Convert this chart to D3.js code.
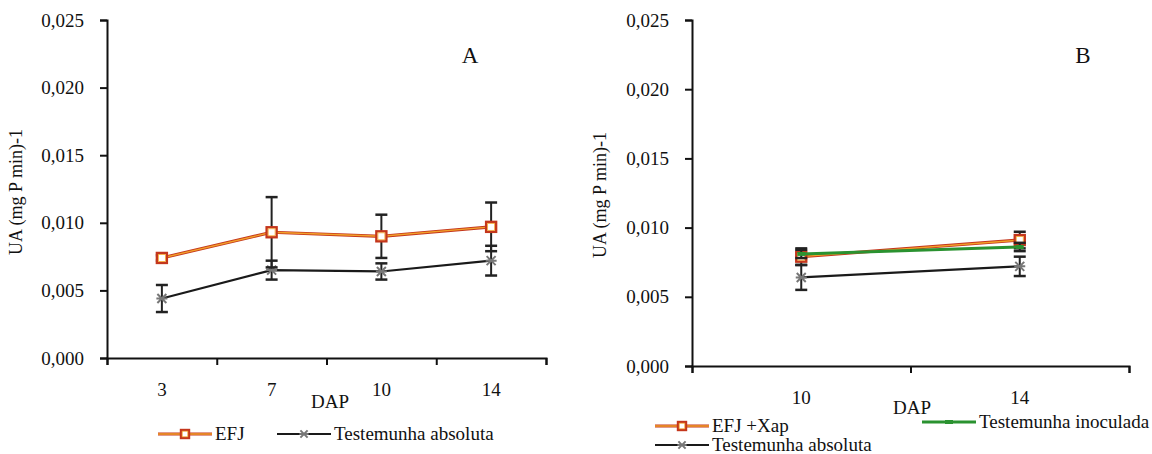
<!DOCTYPE html>
<html>
<head>
<meta charset="utf-8">
<script src="https://cdn.jsdelivr.net/npm/d3@7"></script>
<style>
  body { margin: 0; background: #fff; }
</style>
</head>
<body>
<div id="chart"></div>
<script>
// panel A
var daysA = ["3", "7", "10", "14"];
var efjA = [0.0074, 0.0093, 0.0090, 0.0097];
var efjErrA = [0.0002, 0.0026, 0.0016, 0.0018];
var testAbsA = [0.0044, 0.0065, 0.0064, 0.0072];
var testAbsErrA = [0.0010, 0.0007, 0.0006, 0.0011];

// panel B
var daysB = ["10", "14"];
var efjXapB = [0.0079, 0.0091];
var efjXapErrB = [0.0006, 0.0006];
var testInoB = [0.0081, 0.0086];
var testInoErrB = [0.0003, 0.0003];
var testAbsB = [0.0064, 0.0072];
var testAbsErrB = [0.0009, 0.0007];

var yTicks = [0, 0.005, 0.010, 0.015, 0.020, 0.025];

var FONT = "'Liberation Serif', 'Times New Roman', 'DejaVu Serif', serif";
var W = 1152, H = 454;
var svg = d3.select("#chart").append("svg")
	.attr("width", W).attr("height", H)
	.style("font-family", FONT);

var fmt = function(d) { return d3.format(".3f")(d).replace(".", ","); };

function drawSeries(g, x, y, cats, vals, errs, kind) {
	var pts = cats.map(function(c, i) { return { x: x(c) + x.bandwidth() / 2, v: vals[i], e: errs[i] }; });

	// error bars
	var eb = g.append("g");
	pts.forEach(function(p) {
		eb.append("line").attr("x1", p.x).attr("x2", p.x)
			.attr("y1", y(p.v + p.e)).attr("y2", y(p.v - p.e))
			.attr("stroke", "#222").attr("stroke-width", 2);
		[p.v + p.e, p.v - p.e].forEach(function(v) {
			eb.append("line").attr("x1", p.x - 6).attr("x2", p.x + 6)
				.attr("y1", y(v)).attr("y2", y(v))
				.attr("stroke", "#222").attr("stroke-width", 2.5);
		});
	});

	var line = d3.line().x(function(d) { return d.x; }).y(function(d) { return y(d.v); });
	if (kind == "efj") {
		g.append("path").datum(pts).attr("d", line).attr("fill", "none")
			.attr("stroke", "#c4361c").attr("stroke-width", 3.2);
		g.append("path").datum(pts).attr("d", line).attr("fill", "none")
			.attr("stroke", "#f2a12a").attr("stroke-width", 1.4);
	} else if (kind == "ino") {
		g.append("path").datum(pts).attr("d", line).attr("fill", "none")
			.attr("stroke", "#2a9230").attr("stroke-width", 3);
	} else {
		g.append("path").datum(pts).attr("d", line).attr("fill", "none")
			.attr("stroke", "#1a1a1a").attr("stroke-width", 2.2);
	}

	pts.forEach(function(p) { drawMarker(g, p.x, y(p.v), kind, 1); });
}

function drawMarker(g, cx, cy, kind, k) {
	if (kind == "efj") {
		var a = 5 * k, b = 3.5 * k;
		g.append("rect").attr("x", cx - a).attr("y", cy - a).attr("width", 2 * a).attr("height", 2 * a)
			.attr("fill", "#fff").attr("stroke", "#c4361c").attr("stroke-width", 2.4);
		g.append("rect").attr("x", cx - b).attr("y", cy - b).attr("width", 2 * b).attr("height", 2 * b)
			.attr("fill", "#fff").attr("stroke", "#f2a12a").attr("stroke-width", 0.8);
	} else if (kind == "ino") {
		g.append("rect").attr("x", cx - 4).attr("y", cy - 2).attr("width", 8).attr("height", 4)
			.attr("fill", "#2a9230");
	} else {
		var s = 4.5 * k;
		var d = "M" + (cx - s) + "," + (cy - s) + "L" + (cx + s) + "," + (cy + s) +
			"M" + (cx - s) + "," + (cy + s) + "L" + (cx + s) + "," + (cy - s) +
			"M" + (cx - s - 1) + "," + cy + "L" + (cx + s + 1) + "," + cy;
		g.append("path").attr("d", d).attr("stroke", "#777").attr("stroke-width", 2).attr("fill", "none");
	}
}

function drawPanel(opts) {
	var g = svg.append("g");
	var x = d3.scaleBand().domain(opts.cats).range([opts.left, opts.right]).padding(0);
	var y = d3.scaleLinear().domain([0, 0.025]).range([opts.bottom, opts.top]);

	// y axis
	var ya = g.append("g").attr("transform", "translate(" + opts.left + ",0)")
		.call(d3.axisLeft(y).tickValues(yTicks).tickFormat(fmt).tickSize(7).tickPadding(16));
	ya.attr("font-family", null);
	ya.select(".domain").attr("stroke", "#111").attr("stroke-width", 2);
	ya.selectAll(".tick line").attr("stroke", "#111").attr("stroke-width", 2);
	ya.selectAll("text").style("font-family", FONT).style("font-size", "19px").attr("fill", "#111");

	// x axis: boundary ticks
	var xb = d3.scaleLinear().domain([0, opts.cats.length]).range([opts.left, opts.right]);
	var xa = g.append("g").attr("transform", "translate(0," + opts.bottom + ")")
		.call(d3.axisBottom(xb).tickValues(d3.range(opts.cats.length + 1)).tickFormat("").tickSize(7).tickSizeOuter(7));
	xa.select(".domain").attr("stroke", "#111").attr("stroke-width", 2);
	xa.selectAll(".tick line").attr("stroke", "#111").attr("stroke-width", 2);

	// x labels
	var xl = g.append("g").attr("transform", "translate(0," + (opts.bottom + opts.labelOff) + ")")
		.call(d3.axisBottom(x).tickSize(0).tickPadding(0));
	xl.attr("font-family", null);
	xl.select(".domain").remove();
	xl.selectAll("text").style("font-family", FONT).style("font-size", "19px").attr("fill", "#111");

	g.append("text").attr("x", opts.dapX).attr("y", opts.dapY)
		.attr("text-anchor", "middle").style("font-size", "19px").attr("fill", "#111").text("DAP");

	g.append("text").attr("transform", "translate(" + opts.ylabX + "," + opts.ylabY + ") rotate(-90)")
		.attr("text-anchor", "middle").style("font-size", "18px").attr("fill", "#111").text("UA (mg P min)-1");

	g.append("text").attr("x", opts.letterX).attr("y", 63)
		.attr("text-anchor", "middle").style("font-size", "23px").attr("fill", "#111").text(opts.letter);

	opts.series.forEach(function(s) {
		drawSeries(g, x, y, opts.cats, s.vals, s.errs, s.kind);
	});
	return g;
}

drawPanel({
	cats: daysA, left: 107, right: 546, top: 20, bottom: 358, labelOff: 24,
	dapX: 330, dapY: 408, ylabX: 22, ylabY: 192, letter: "A", letterX: 470,
	series: [
		{ vals: testAbsA, errs: testAbsErrA, kind: "abs" },
		{ vals: efjA, errs: efjErrA, kind: "efj" }
	]
});

drawPanel({
	cats: daysB, left: 692, right: 1129, top: 20, bottom: 366, labelOff: 24,
	dapX: 912, dapY: 414, ylabX: 606, ylabY: 195, letter: "B", letterX: 1083,
	series: [
		{ vals: testAbsB, errs: testAbsErrB, kind: "abs" },
		{ vals: efjXapB, errs: efjXapErrB, kind: "efj" },
		{ vals: testInoB, errs: testInoErrB, kind: "ino" }
	]
});

// legends
var legendItems = [
	{ label: "EFJ", kind: "efj", x: 158, y: 434 },
	{ label: "Testemunha absoluta", kind: "abs", x: 277, y: 434 },
	{ label: "EFJ +Xap", kind: "efj", x: 655, y: 426 },
	{ label: "Testemunha inoculada", kind: "ino", x: 922, y: 422 },
	{ label: "Testemunha absoluta", kind: "abs", x: 655, y: 445 }
];
legendItems.forEach(function(it) {
	var g = svg.append("g");
	var x2 = it.x + 54;
	if (it.kind == "efj") {
		g.append("line").attr("x1", it.x).attr("x2", x2).attr("y1", it.y).attr("y2", it.y)
			.attr("stroke", "#c4361c").attr("stroke-width", 3.2);
		g.append("line").attr("x1", it.x).attr("x2", x2).attr("y1", it.y).attr("y2", it.y)
			.attr("stroke", "#f2a12a").attr("stroke-width", 1.4);
	} else if (it.kind == "ino") {
		g.append("line").attr("x1", it.x).attr("x2", x2).attr("y1", it.y).attr("y2", it.y)
			.attr("stroke", "#2a9230").attr("stroke-width", 3);
	} else {
		g.append("line").attr("x1", it.x).attr("x2", x2).attr("y1", it.y).attr("y2", it.y)
			.attr("stroke", "#1a1a1a").attr("stroke-width", 2.2);
	}
	drawMarker(g, it.x + 27, it.y, it.kind, 0.8);
	g.append("text").attr("x", x2 + 3).attr("y", it.y + 6)
		.style("font-size", "19px").attr("fill", "#111").text(it.label);
});
</script>
</body>
</html>
